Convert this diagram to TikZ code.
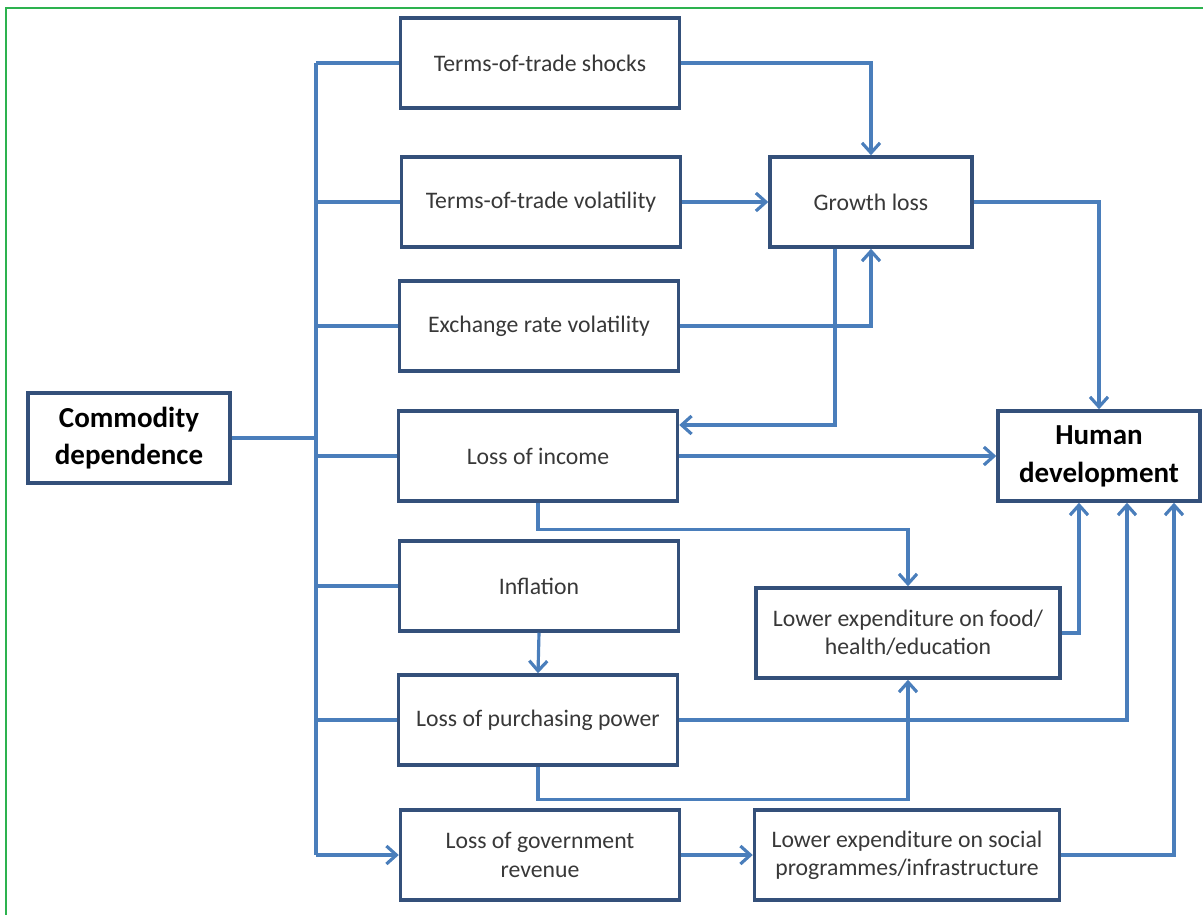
\documentclass[tikz,border=0pt]{standalone}
\usepackage{fontspec}
\setmainfont{Carlito}
\usetikzlibrary{arrows.meta}
\definecolor{boxline}{HTML}{34507A}
\definecolor{linkblue}{HTML}{4A7EBB}
\definecolor{labelgray}{HTML}{383838}
\definecolor{framegreen}{HTML}{2DB24F}

\begin{document}
\begin{tikzpicture}[x=0.02cm, y=-0.02cm,
    >={Straight Barb[length=2mm,width=3.6mm]},
    box/.style={draw=boxline, line width=2pt, fill=white, align=center,
        minimum width=5.58cm, minimum height=1.8cm, text=labelgray,
        font=\fontsize{13.5}{16}\selectfont},
    keybox/.style={box, minimum width=4.04cm, text=black,
        font=\bfseries\fontsize{16.5}{21.5}\selectfont},
    link/.style={draw=linkblue, line width=1.8pt}]
    \useasboundingbox (0,0) rectangle (1203,915);

    % Frame
    \draw[framegreen, line width=1.2pt] (6,915) -- (6,8) -- (1203,8);

    % Source
    \node[keybox] (cd) at (129,438) {Commodity\\dependence};

    % Channels
    \node[box] (tts) at (540,63) {Terms-of-trade shocks};
    \node[box] (ttv) at (541,202) {Terms-of-trade volatility};
    \node[box] (exch) at (539,326) {Exchange rate volatility};
    \node[box] (income) at (538,456) {Loss of income};
    \node[box] (infl) at (539,586) {Inflation};
    \node[box] (lpp) at (538,720) {Loss of purchasing power};
    \node[box] (gov) at (540,855) {Loss of government\\revenue};

    % Effects
    \node[box, minimum width=4.04cm] (growth) at (871,202) {Growth loss};
    \node[box, minimum width=6.08cm] (food) at (908,633) {Lower expenditure on food/\\health/education};
    \node[box, minimum width=6.1cm] (social) at (907,855) {Lower expenditure on social\\programmes/infrastructure};
    \node[keybox] (hd) at (1099,456) {Human\\development};

    % Trunk
    \coordinate (jn) at (316,438);
    \draw[link] (cd.east) -- (jn);
    \draw[link] (jn |- tts.west) -- (jn |- gov.west);
    \foreach \n in {tts,ttv,exch,income,infl,lpp}
        \draw[link] (jn |- \n.west) -- (\n.west);
    \draw[link,->] (jn |- gov.west) -- (gov.west);

    % Into growth loss
    \draw[link,->] (tts.east) -| (growth.north);
    \draw[link,->] (ttv.east) -- (growth.west);
    \draw[link,->] (exch.east) -| (growth.south);
    \draw[link,->] ([xshift=-0.72cm]growth.south) |- ([yshift=0.62cm]income.east);

    % Into human development
    \draw[link,->] (growth.east) -| (hd.north);
    \draw[link,->] (income.east) -- (hd.west);
    \draw[link,->] (food.east) -| ([xshift=-0.4cm]hd.south);
    \draw[link,->] (lpp.east) -| ([xshift=0.56cm]hd.south);
    \draw[link,->] (social.east) -| ([xshift=1.5cm]hd.south);

    % Spending
    \draw[link,->] (income.south) -- ++(0,27) -| (food.north);
    \draw[link,->] (infl.south) -- (lpp.north);
    \draw[link,->] (lpp.south) -- ++(0,33) -| (food.south);
    \draw[link,->] (gov.east) -- (social.west);
\end{tikzpicture}
\end{document}
